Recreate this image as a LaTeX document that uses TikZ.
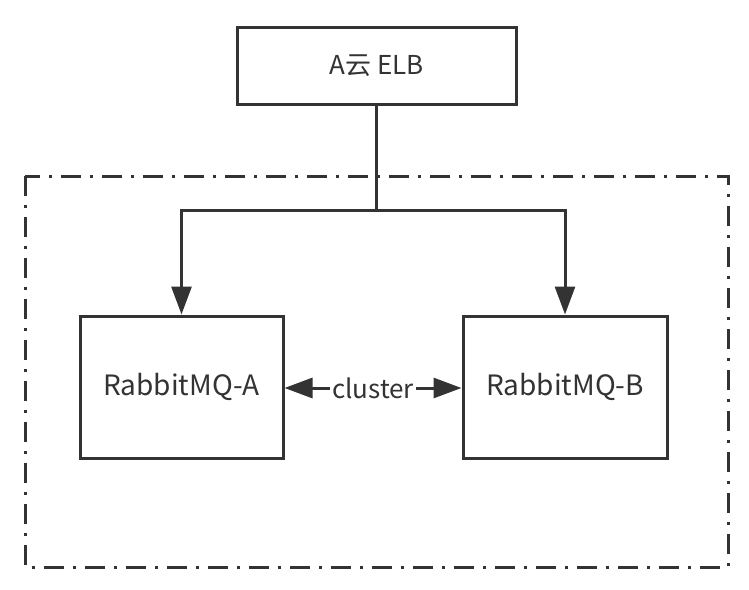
\documentclass[tikz,border=0pt]{standalone}
\usepackage{fontspec}
\setmainfont{Noto Sans CJK SC}
\usetikzlibrary{arrows.meta}
\definecolor{ink}{HTML}{333333}
\tikzset{
  box/.style={draw=ink, line width=3pt, fill=white, inner sep=0pt, text=ink, font=\fontsize{26}{30}\selectfont},
  conn/.style={draw=ink, line width=3pt, -{Triangle[length=28pt,width=20pt]}},
  frame/.style={draw=ink, line width=3pt, dash pattern=on 20pt off 9pt on 3pt off 9pt}
}
\begin{document}
\begin{tikzpicture}[x=1pt,y=-1pt]
\useasboundingbox (0,0) rectangle (749,589);
\draw[frame] (25,176) rectangle (728,567);
\node[box, minimum width=279pt, minimum height=77pt] (elb) at (376.5,66) {A云 ELB};
\node[box, minimum width=203pt, minimum height=142pt, font=\fontsize{28}{32}\selectfont] (ra) at (181.5,387) {RabbitMQ-A};
\node[box, minimum width=204pt, minimum height=142pt, font=\fontsize{28}{32}\selectfont] (rb) at (565,387) {RabbitMQ-B};
\coordinate (split) at (376.5,210);
\draw[draw=ink, line width=3pt] (elb.south) -- (split);
\draw[conn] (split) -| (ra.north);
\draw[conn] (split) -| (rb.north);
\draw[draw=ink, line width=3pt, {Triangle[length=28pt,width=20pt]}-{Triangle[length=28pt,width=20pt]}] (ra.east |- 0,388) -- node[fill=white, inner sep=2pt, text=ink, font=\fontsize{26}{30}\selectfont] (cl) {cluster} (rb.west |- 0,388);
\end{tikzpicture}
\end{document}
